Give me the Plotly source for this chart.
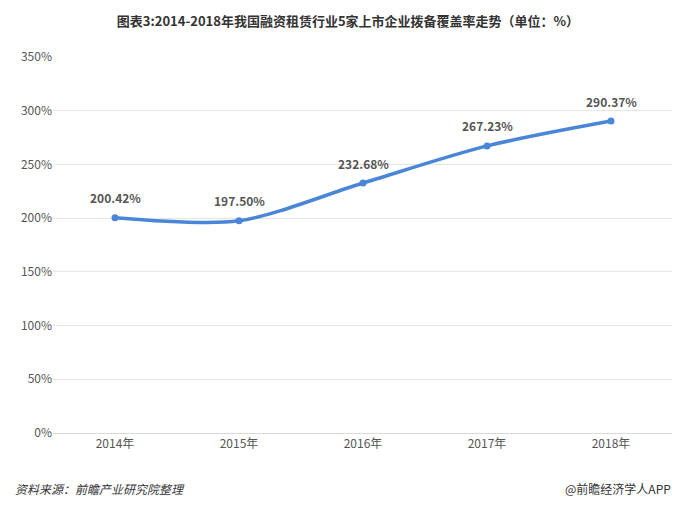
import plotly.graph_objects as go

years = ["2014年", "2015年", "2016年", "2017年", "2018年"]
coverage = [200.42, 197.50, 232.68, 267.23, 290.37]
labels = ["200.42%", "197.50%", "232.68%", "267.23%", "290.37%"]

fig = go.Figure()
fig.add_trace(go.Scatter(
    x=years, y=coverage, mode="lines+markers",
    line=dict(color="#4a86d8", width=3.5, shape="spline", smoothing=0.8),
    marker=dict(size=7, color="#4a86d8"),
    cliponaxis=False,
))
for yr, v, t in zip(years, coverage, labels):
    fig.add_annotation(x=yr, y=v, text="<b>" + t + "</b>", showarrow=False, yshift=20,
                       font=dict(size=12, color="#555555"))

fig.update_layout(
    width=680, height=509,
    margin=dict(l=45, r=15, t=49, b=84),
    paper_bgcolor="white", plot_bgcolor="white",
    showlegend=False,
    font=dict(family="Noto Sans CJK SC", color="#555555", size=12),
    title=dict(text="<b>图表3:2014-2018年我国融资租赁行业5家上市企业拨备覆盖率走势（单位：%）</b>",
               x=0.5, y=0.983, xanchor="center", font=dict(size=13, color="#333333")),
    xaxis=dict(showgrid=False, showline=True, linecolor="#d9d9d9", ticks="",
               range=[-0.5, 4.5], tickfont=dict(size=12, color="#555555")),
    yaxis=dict(range=[0, 350], dtick=50, ticksuffix="%", gridcolor="#e6e6e6",
               zeroline=False, tickfont=dict(size=12, color="#555555")),
)
fig.add_annotation(text="<i>资料来源：前瞻产业研究院整理</i>", xref="paper", yref="paper",
                   x=-0.065, y=-0.175, xanchor="left", showarrow=False,
                   font=dict(size=12, color="#333333"))
fig.add_annotation(text="@前瞻经济学人APP", xref="paper", yref="paper",
                   x=1.0, y=-0.175, xanchor="right", showarrow=False,
                   font=dict(size=12, color="#333333"))

fig.write_html("out.html")
